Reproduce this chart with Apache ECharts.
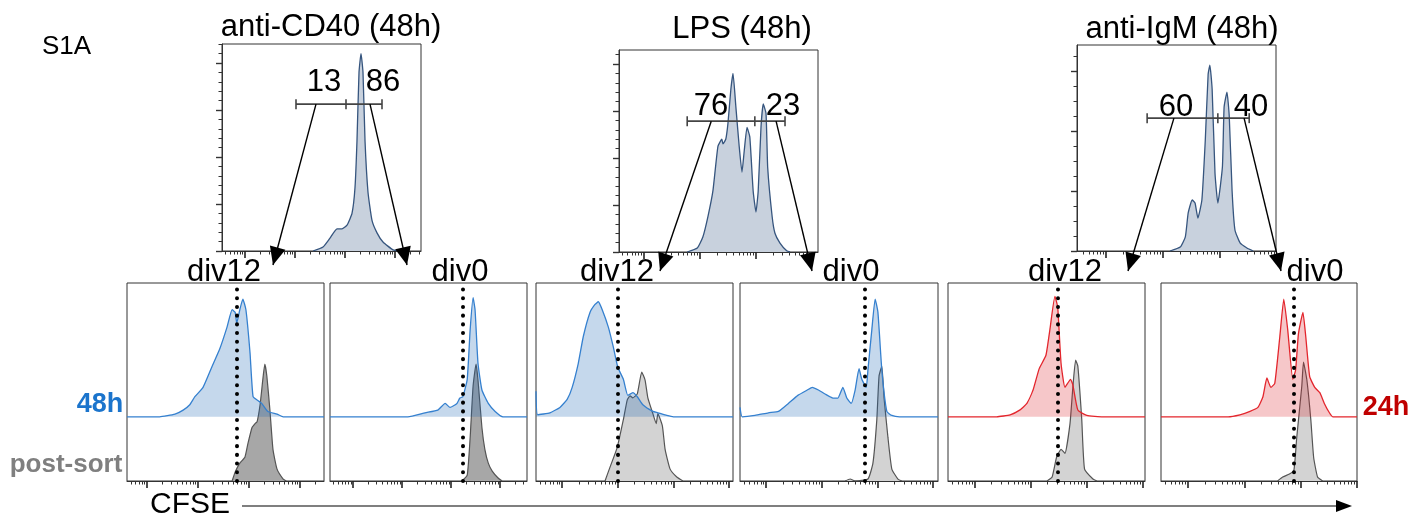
<!DOCTYPE html>
<html>
<head>
<meta charset="utf-8">
<script src="https://cdn.jsdelivr.net/npm/echarts@6/dist/echarts.min.js"></script>
<style>
html, body { margin: 0; padding: 0; background: #fff; }
#chart { width: 1413px; height: 519px; }
</style>
</head>
<body>
<div id="chart"></div>
<script>
/**
 * 数据 : x = log10(CFSE), y = 相对细胞数
 */
// top histograms (48h, before sort)
var topCd40 = [[3.36,0],[3.56,1.7],[3.70,5.5],[3.84,9.4],[3.94,9.4],[4.04,11],[4.14,16],[4.20,27],[4.24,47],[4.28,76],[4.32,84],[4.36,76],[4.40,47],[4.46,25],[4.54,13],[4.64,7.7],[4.76,3.8],[4.96,0.5],[5.10,0]];
var topLps = [[2.77,0],[2.95,1.7],[3.05,6.4],[3.14,15],[3.23,26],[3.32,45],[3.39,48],[3.41,46],[3.46,48],[3.50,55],[3.55,69],[3.59,76],[3.64,62],[3.70,45],[3.75,34],[3.79,43],[3.84,53],[3.89,49],[3.95,26],[4.00,17],[4.04,26],[4.09,53],[4.13,63],[4.18,59],[4.21,36],[4.29,15],[4.34,8],[4.43,3.8],[4.55,0.5],[4.61,0]];
var topIgm = [[3.12,0],[3.30,1.3],[3.39,4.7],[3.44,12.7],[3.51,17],[3.56,16],[3.61,11],[3.68,17],[3.74,37],[3.79,59],[3.82,62],[3.86,54],[3.91,26],[3.96,16],[4.04,28],[4.07,48],[4.12,53],[4.16,45],[4.21,20],[4.26,7],[4.35,2.7],[4.47,1],[4.58,0]];

// gates : [left, middle, right, level]
var gates = [[3.02, 4.02, 4.74, 62.5], [2.77, 3.98, 4.52, 55.7], [2.72, 3.96, 4.51, 44.3]];
var gatePct = [['13', '86'], ['76', '23'], ['60', '40']];
var titles = ['anti-CD40 (48h)', 'LPS (48h)', 'anti-IgM (48h)'];

// sorted fractions : 48h / 24h (top) and post-sort (bottom)
var cd40Div12Blue = [[1.61,0],[2.25,0],[2.55,2],[2.71,5],[2.84,9],[2.94,15],[3.10,22],[3.27,37],[3.43,51],[3.57,67],[3.67,80],[3.73,78],[3.76,70],[3.82,80],[3.88,88],[3.94,80],[4.02,48],[4.08,15],[4.18,12],[4.25,10],[4.37,4],[4.55,2],[4.67,0],[5.47,0]];
var cd40Div12Sort = [[3.67,0],[3.73,4.5],[3.82,9],[3.92,12],[3.98,19],[4.06,27],[4.12,29],[4.16,30],[4.22,39],[4.27,51],[4.31,59],[4.35,53],[4.41,36],[4.47,16],[4.55,6],[4.67,1],[4.73,0]];
var cd40Div0Blue = [[1.53,0],[3.12,0],[3.47,3],[3.73,5],[3.88,10],[3.98,7],[4.12,10],[4.18,14],[4.24,15],[4.33,28],[4.39,65],[4.45,89],[4.49,80],[4.55,40],[4.63,20],[4.76,10],[4.90,4],[5.06,0],[5.55,0]];
var cd40Div0Sort = [[4.22,0],[4.33,3],[4.39,22],[4.45,48],[4.51,59],[4.55,51],[4.63,27],[4.69,16],[4.76,9],[4.84,5],[4.96,1.5],[5.04,0]];
var lpsDiv12Blue = [[1.53,19],[1.56,1.5],[1.78,3],[1.96,7],[2.09,13],[2.18,22],[2.29,40],[2.38,60],[2.50,78],[2.59,84],[2.65,86],[2.72,80],[2.83,67],[2.92,52],[3.00,37],[3.10,28],[3.18,16],[3.27,18],[3.35,15],[3.45,9],[3.63,4],[3.72,3],[3.88,1],[4.00,0],[5.07,0]];
var lpsDiv12Sort = [[2.77,0],[2.86,7],[2.99,17],[3.10,31],[3.17,41],[3.22,43],[3.27,42],[3.35,44],[3.43,55],[3.49,51],[3.54,42],[3.63,34],[3.69,29],[3.72,34],[3.80,28],[3.85,16],[3.94,6],[4.06,2],[4.17,0]];
var lpsDiv0Blue = [[1.53,7],[1.57,0],[1.80,1],[2.04,3],[2.22,4],[2.40,10],[2.57,16],[2.74,20],[2.83,22],[2.94,20],[3.06,17],[3.20,14],[3.29,14],[3.38,22],[3.45,14],[3.53,10],[3.60,20],[3.67,36],[3.72,28],[3.80,22],[3.83,35],[3.90,65],[3.96,88],[4.01,78],[4.08,35],[4.17,4],[4.26,1],[4.40,0],[5.09,0]];
var lpsDiv0Sort = [[3.42,0],[3.51,1],[3.60,0],[3.83,1],[3.92,9],[3.99,31],[4.03,53],[4.08,58],[4.12,42],[4.19,22],[4.26,6],[4.37,1],[4.44,0]];
var igmDiv12Red = [[1.52,0],[2.39,0],[2.63,1.5],[2.80,5],[2.93,10],[3.04,20],[3.15,36],[3.27,46],[3.34,65],[3.43,90],[3.48,82],[3.54,40],[3.61,22],[3.71,28],[3.75,24],[3.84,5],[4.00,1],[4.29,0],[5.04,0]];
var igmDiv12Sort = [[3.29,0],[3.38,2],[3.46,12],[3.54,16],[3.61,14],[3.70,29],[3.75,47],[3.80,61],[3.84,58],[3.91,31],[3.96,6],[4.11,1],[4.18,0]];
var igmDiv0Red = [[1.52,0],[2.71,0],[2.92,1.5],[3.10,4],[3.24,7],[3.33,15],[3.40,29],[3.47,22],[3.54,25],[3.63,60],[3.70,88],[3.77,65],[3.86,28],[3.91,35],[3.96,62],[4.04,78],[4.09,60],[4.16,30],[4.25,22],[4.34,18],[4.42,10],[4.51,3],[4.57,0],[5.00,0]];
var igmDiv0Sort = [[3.59,0],[3.68,2],[3.80,3.5],[3.88,5.5],[3.93,22],[4.02,48],[4.05,60],[4.11,51],[4.18,31],[4.23,12],[4.30,2],[4.39,0]];

// dotted cut line (division 0 position)
var divCut = [3.76, 4.24, 3.00, 3.78, 3.48, 3.88];
var divLabels = ['div12', 'div0', 'div12', 'div0', 'div12', 'div0'];

// log ticks
var majorDecades = [1, 2, 3, 4, 5, 6];
var minorDecades = [];
for (var d = 1; d <= 5; d++) {
	for (var k = 2; k <= 9; k++) minorDecades.push(d + Math.log10(k));
}

/**
 * 布局
 */
var FONT = '"Liberation Sans", Arial, sans-serif';
var topPanels = [
	{left: 222, top: 44, width: 199, height: 207, xMin: 1.54, xMax: 5.52, yMax: 88.1, minorStep: 4, data: topCd40, titleX: 331, titleY: 27},
	{left: 619, top: 50, width: 199, height: 202, xMin: 1.55, xMax: 5.11, yMax: 86, minorStep: 4, data: topLps, titleX: 742, titleY: 29},
	{left: 1077, top: 45, width: 199, height: 206, xMin: 1.49, xMax: 4.98, yMax: 68.7, minorStep: 5, data: topIgm, titleX: 1182, titleY: 29}
];
var BLUE = {line: '#3580cf', fill: 'rgba(24,100,180,0.25)'};
var RED = {line: '#e3262d', fill: 'rgba(220,30,40,0.25)'};
var bottomPanels = [
	{left: 127, width: 197, xMin: 1.61, xMax: 5.47, upper: cd40Div12Blue, sort: cd40Div12Sort, col: BLUE, sortFill: '#a7a7a7'},
	{left: 330, width: 197, xMin: 1.53, xMax: 5.55, upper: cd40Div0Blue, sort: cd40Div0Sort, col: BLUE, sortFill: '#a7a7a7'},
	{left: 536, width: 197, xMin: 1.53, xMax: 5.07, upper: lpsDiv12Blue, sort: lpsDiv12Sort, col: BLUE, sortFill: '#d3d3d3'},
	{left: 740, width: 198, xMin: 1.53, xMax: 5.09, upper: lpsDiv0Blue, sort: lpsDiv0Sort, col: BLUE, sortFill: '#d3d3d3'},
	{left: 948, width: 197, xMin: 1.52, xMax: 5.04, upper: igmDiv12Red, sort: igmDiv12Sort, col: RED, sortFill: '#d3d3d3'},
	{left: 1161, width: 196, xMin: 1.52, xMax: 5.00, upper: igmDiv0Red, sort: igmDiv0Sort, col: RED, sortFill: '#d3d3d3'}
];
var BOTTOM_TOP = 283, BOTTOM_H = 198;
// label centres / arrow tips (px)
var divLabelPos = [[224, 272], [460, 272], [617, 272], [851, 272], [1065, 272], [1315, 272]];
var arrowTips = [[273, 265], [407, 265], [660, 271], [812, 271], [1128, 271], [1281, 271]];
var arrowStarts = [[3.42, 4.50], [3.20, 4.36], [3.19, 4.42]];
var pctPos = [[[324, 82], [383, 82]], [[711, 106], [783, 106]], [[1176, 107], [1251, 107]]];

function inRange(arr, a, b) {
	return arr.filter(function(v) { return v >= a - 1e-6 && v <= b + 1e-6; });
}
function xAxisPair(gi, min, max) {
	var base = {
		type: 'value', gridIndex: gi, min: min, max: max, position: 'bottom',
		axisLabel: {show: false}, splitLine: {show: false}
	};
	var major = Object.assign({}, base, {
		axisLine: {show: true, onZero: false, lineStyle: {color: '#333', width: 1}},
		axisTick: {show: true, inside: false, length: 7, customValues: inRange(majorDecades, min, max), lineStyle: {color: '#222', width: 1.6}}
	});
	var minor = Object.assign({}, base, {
		axisLine: {show: false, onZero: false},
		axisTick: {show: true, inside: false, length: 3.5, customValues: inRange(minorDecades, min, max), lineStyle: {color: '#333', width: 1}}
	});
	return [major, minor];
}

var option = {
	animation: false,
	backgroundColor: '#fff',
	grid: [], xAxis: [], yAxis: [], series: []
};

// 上方直方图
topPanels.forEach(function(p, i) {
	option.grid.push({left: p.left, top: p.top, width: p.width, height: p.height, show: true, borderColor: '#333', borderWidth: 1});
	option.xAxis = option.xAxis.concat(xAxisPair(i, p.xMin, p.xMax));
	var majors = [], minors = [];
	for (var v = 0; v <= p.yMax; v += p.minorStep) {
		if (v % 20 === 0) majors.push(v); else minors.push(v);
	}
	option.yAxis.push({
		type: 'value', gridIndex: i, min: 0, max: p.yMax, position: 'left',
		axisLine: {show: true, onZero: false, lineStyle: {color: '#333'}},
		axisTick: {show: true, length: 6, customValues: majors, lineStyle: {color: '#333', width: 1.4}},
		axisLabel: {show: false}, splitLine: {show: false}
	});
	option.yAxis.push({
		type: 'value', gridIndex: i, min: 0, max: p.yMax, position: 'left',
		axisLine: {show: false, onZero: false},
		axisTick: {show: true, length: 3.5, customValues: minors, lineStyle: {color: '#333', width: 1}},
		axisLabel: {show: false}, splitLine: {show: false}
	});
	option.series.push({
		type: 'line', xAxisIndex: 2 * i, yAxisIndex: 2 * i, data: p.data,
		symbol: 'none', smooth: 0.15,
		lineStyle: {color: '#36557e', width: 1.3},
		areaStyle: {color: '#c8d1dd', opacity: 1}
	});
});

// 下方分选直方图
bottomPanels.forEach(function(p, j) {
	var gi = 3 + j;
	option.grid.push({left: p.left, top: BOTTOM_TOP, width: p.width, height: BOTTOM_H, show: true, borderColor: '#333', borderWidth: 1});
	option.xAxis = option.xAxis.concat(xAxisPair(gi, p.xMin, p.xMax));
	var xi = 2 * gi;
	var ySort = option.yAxis.length;
	option.yAxis.push({type: 'value', gridIndex: gi, min: 0, max: 100, show: false});
	option.yAxis.push({type: 'value', gridIndex: gi, min: -48, max: 100, show: false});
	option.series.push({
		type: 'line', xAxisIndex: xi, yAxisIndex: ySort, data: p.sort,
		symbol: 'none', smooth: 0.15, z: 2,
		lineStyle: {color: '#555', width: 1.2},
		areaStyle: {color: p.sortFill, opacity: 1}
	});
	option.series.push({
		type: 'line', xAxisIndex: xi, yAxisIndex: ySort + 1, data: p.upper,
		symbol: 'none', smooth: 0.15, z: 3,
		lineStyle: {color: p.col.line, width: 1.3},
		areaStyle: {color: p.col.fill, opacity: 1, origin: 'auto'},
		markLine: {
			silent: true, symbol: ['none', 'none'], label: {show: false},
			lineStyle: {color: '#000', width: 4, type: [0.1, 8.6], cap: 'round'},
			data: [{xAxis: divCut[j]}]
		}
	});
});

var myChart = echarts.init(document.getElementById('chart'));
myChart.setOption(option);

/**
 * 注释 : 文字, 门, 箭头
 */
function txt(s, x, y, size, opts) {
	opts = opts || {};
	return {
		type: 'text', z: 10,
		style: {
			text: s, x: x, y: y,
			font: (opts.bold ? 'bold ' : '') + size + 'px ' + FONT,
			fill: opts.color || '#000', align: opts.align || 'center', verticalAlign: 'middle'
		}
	};
}
function seg(x1, y1, x2, y2, w, c) {
	return {type: 'line', z: 10, shape: {x1: x1, y1: y1, x2: x2, y2: y2}, style: {stroke: c || '#000', lineWidth: w || 1.5}};
}
function head(x1, y1, x2, y2, len, half) {
	var dx = x2 - x1, dy = y2 - y1, L = Math.sqrt(dx * dx + dy * dy);
	var ux = dx / L, uy = dy / L;
	var bx = x2 - ux * len, by = y2 - uy * len;
	return {type: 'polygon', z: 10, shape: {points: [[x2, y2], [bx - uy * half, by + ux * half], [bx + uy * half, by - ux * half]]}, style: {fill: '#000'}};
}

var g = [];
g.push(txt('S1A', 42, 47, 26, {align: 'left'}));
topPanels.forEach(function(p, i) {
	g.push(txt(titles[i], p.titleX, p.titleY, 31));
	var gate = gates[i];
	var finder = {xAxisIndex: 2 * i, yAxisIndex: 2 * i};
	var a = myChart.convertToPixel(finder, [gate[0], gate[3]]);
	var m = myChart.convertToPixel(finder, [gate[1], gate[3]]);
	var b = myChart.convertToPixel(finder, [gate[2], gate[3]]);
	g.push(seg(a[0], a[1], b[0], b[1], 1.6, '#444'));
	[a, m, b].forEach(function(pt) { g.push(seg(pt[0], pt[1] - 5, pt[0], pt[1] + 5, 1.6, '#444')); });
	g.push(txt(gatePct[i][0], pctPos[i][0][0], pctPos[i][0][1], 31));
	g.push(txt(gatePct[i][1], pctPos[i][1][0], pctPos[i][1][1], 31));
	for (var s = 0; s < 2; s++) {
		var st = myChart.convertToPixel(finder, [arrowStarts[i][s], gate[3]]);
		var tip = arrowTips[2 * i + s];
		g.push(seg(st[0], st[1], tip[0], tip[1], 1.4));
		g.push(head(st[0], st[1], tip[0], tip[1], 18, 8));
	}
});
divLabels.forEach(function(s, j) {
	g.push(txt(s, divLabelPos[j][0], divLabelPos[j][1], 31));
});
g.push(txt('48h', 100, 405, 27, {bold: true, color: '#1b74cc'}));
g.push(txt('24h', 1386, 408, 27, {bold: true, color: '#c00000'}));
g.push(txt('post-sort', 66, 465, 26, {bold: true, color: '#7f7f7f'}));
g.push(txt('CFSE', 190, 505, 30));
g.push(seg(242, 506, 1340, 506, 1.2));
g.push(head(242, 506, 1352, 506, 16, 6));

myChart.setOption({graphic: {elements: g}});
</script>
</body>
</html>
